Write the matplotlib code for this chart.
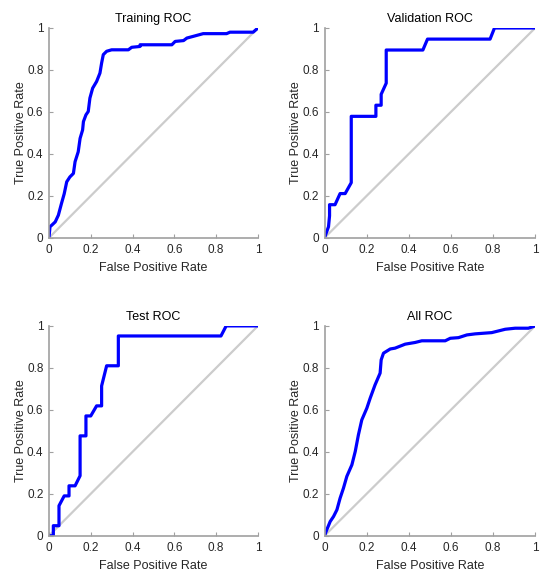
import matplotlib
matplotlib.use('Agg')
import matplotlib.pyplot as plt

plt.rcParams['font.family'] = ['Liberation Sans', 'DejaVu Sans']

# ROC curves (false positive rate, true positive rate)
train_fpr = [0, 0.005, 0.013, 0.03, 0.045, 0.06, 0.073, 0.085, 0.10, 0.117, 0.125, 0.14,
             0.149, 0.161, 0.165, 0.177, 0.188, 0.196, 0.209, 0.228, 0.244, 0.252, 0.26,
             0.276, 0.30, 0.38, 0.396, 0.436, 0.436, 0.588, 0.604, 0.644, 0.66, 0.69,
             0.738, 0.85, 0.866, 0.977, 1.0]
train_tpr = [0, 0.053, 0.06, 0.076, 0.108, 0.164, 0.21, 0.267, 0.29, 0.307, 0.363, 0.41,
             0.474, 0.514, 0.554, 0.586, 0.602, 0.666, 0.713, 0.745, 0.785, 0.833, 0.873,
             0.889, 0.896, 0.896, 0.908, 0.912, 0.92, 0.92, 0.936, 0.94, 0.952, 0.96,
             0.973, 0.973, 0.98, 0.98, 1.0]

val_fpr = [0, 0.019, 0.024, 0.024, 0.05, 0.074, 0.098, 0.127, 0.127, 0.244, 0.244, 0.269,
           0.269, 0.293, 0.293, 0.467, 0.489, 0.786, 0.807, 1.0]
val_tpr = [0, 0.053, 0.105, 0.158, 0.158, 0.211, 0.211, 0.263, 0.579, 0.579, 0.632, 0.632,
           0.684, 0.737, 0.895, 0.895, 0.947, 0.947, 1.0, 1.0]

test_fpr = [0, 0.021, 0.021, 0.048, 0.048, 0.073, 0.096, 0.096, 0.125, 0.149, 0.149, 0.177,
            0.177, 0.20, 0.228, 0.252, 0.252, 0.276, 0.332, 0.332, 0.823, 0.848, 1.0]
test_tpr = [0, 0, 0.048, 0.048, 0.143, 0.19, 0.19, 0.238, 0.238, 0.286, 0.476, 0.476,
            0.571, 0.571, 0.619, 0.619, 0.714, 0.81, 0.81, 0.952, 0.952, 1.0, 1.0]

all_fpr = [0, 0.011, 0.027, 0.043, 0.059, 0.074, 0.09, 0.106, 0.13, 0.146, 0.161, 0.177,
           0.201, 0.217, 0.24, 0.264, 0.269, 0.28, 0.312, 0.335, 0.383, 0.43, 0.462,
           0.573, 0.597, 0.636, 0.676, 0.715, 0.794, 0.858, 0.905, 0.968, 1.0]
all_tpr = [0, 0.029, 0.068, 0.092, 0.124, 0.179, 0.227, 0.283, 0.338, 0.402, 0.481, 0.552,
           0.608, 0.656, 0.719, 0.775, 0.838, 0.87, 0.89, 0.894, 0.913, 0.921, 0.929,
           0.929, 0.941, 0.944, 0.957, 0.962, 0.968, 0.984, 0.989, 0.989, 1.0]

titles = ['Training ROC', 'Validation ROC', 'Test ROC', 'All ROC']
curves = [(train_fpr, train_tpr), (val_fpr, val_tpr), (test_fpr, test_tpr), (all_fpr, all_tpr)]

# axes boxes in figure fractions [left, bottom, width, height]
boxes = [[0.089, 0.592, 0.380, 0.360],
         [0.590, 0.592, 0.383, 0.360],
         [0.089, 0.081, 0.380, 0.360],
         [0.590, 0.081, 0.383, 0.360]]

fig = plt.figure(figsize=(5.5, 5.83), dpi=100)

for title, (fpr, tpr), box in zip(titles, curves, boxes):
    ax = fig.add_axes(box)
    ax.plot([0, 1], [0, 1], color='#cccccc', lw=1.6, zorder=1)
    ax.plot(fpr, tpr, color='#0000ff', lw=2.3, zorder=2, solid_joinstyle='round')
    ax.set_xlim(0, 1)
    ax.set_ylim(0, 1)
    ax.set_xticks([0, 0.2, 0.4, 0.6, 0.8, 1])
    ax.set_yticks([0, 0.2, 0.4, 0.6, 0.8, 1])
    ax.set_xticklabels(['0', '0.2', '0.4', '0.6', '0.8', '1'])
    ax.set_yticklabels(['0', '0.2', '0.4', '0.6', '0.8', '1'])
    for side in ['top', 'right']:
        ax.spines[side].set_visible(False)
    for side in ['left', 'bottom']:
        ax.spines[side].set_color('#a0a0a0')
        ax.spines[side].set_linewidth(1.2)
    ax.tick_params(direction='in', length=3, width=0.8, color='#a0a0a0',
                   labelsize=8.5, labelcolor='#262626')
    ax.tick_params(axis='x', pad=4.5)
    ax.tick_params(axis='y', pad=4)
    ax.set_title(title, fontsize=9, color='#000000', pad=4)
    ax.set_xlabel('False Positive Rate', fontsize=9, color='#262626', labelpad=4)
    ax.set_ylabel('True Positive Rate', fontsize=9, color='#262626', labelpad=0)

fig.savefig('out.png', dpi=100)
